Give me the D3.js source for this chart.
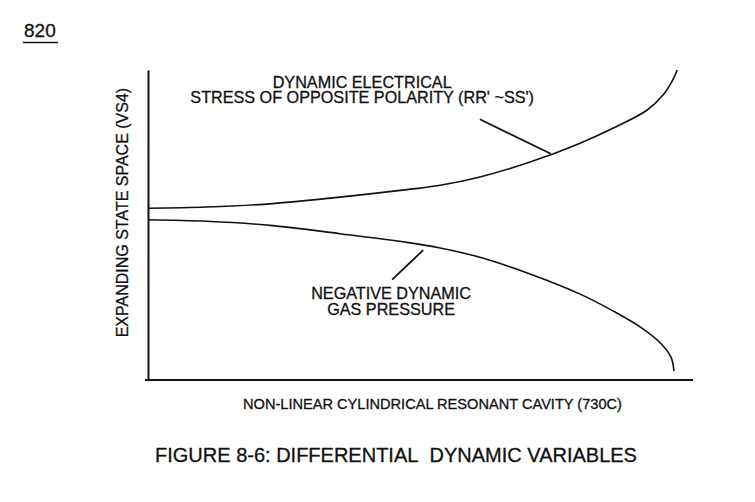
<!DOCTYPE html>
<html>
<head>
<meta charset="utf-8">
<title>Figure 8-6: Differential Dynamic Variables</title>
<style>
  body { margin: 0; background: #fff; }
  svg { display: block; }
  text { font-family: 'Liberation Sans', Arial, sans-serif; fill: #111; stroke: #111; stroke-width: 0.3px; }
  .axis path { stroke: #111; stroke-width: 2px; }
  .curve { fill: none; stroke: #111; stroke-width: 1.6px; }
  .leader { stroke: #111; stroke-width: 1.8px; }
</style>
</head>
<body>
<script src="https://d3js.org/d3.v7.min.js"></script>
<script>

// values (arbitrary units, 0-100 on each axis)
var upperX = [0, 10.8, 22.9, 35.2, 47.5, 53.6, 60.9, 70.1, 79.3, 85.3, 91.6, 94.5, 96.3, 97.1];
var upperY = [55.4, 55.8, 56.9, 59.0, 61.4, 62.8, 65.5, 70.3, 76.4, 81.2, 87.1, 91.9, 96.8, 100];

var lowerX = [0, 10.8, 22.9, 35.2, 47.5, 53.6, 60.9, 70.1, 79.3, 85.3, 90.5, 94.2, 96.0, 96.5];
var lowerY = [51.7, 51.2, 49.8, 47.2, 44.4, 42.6, 39.6, 34.2, 27.7, 22.3, 16.9, 11.6, 7.2, 2.9];

var upperLabel = ["DYNAMIC ELECTRICAL", "STRESS OF OPPOSITE POLARITY (RR' ~SS')"];
var lowerLabel = ["NEGATIVE DYNAMIC", "GAS PRESSURE"];
var xTitle = "NON-LINEAR CYLINDRICAL RESONANT CAVITY (730C)";
var yTitle = "EXPANDING STATE SPACE (VS4)";
var caption = "FIGURE 8-6: DIFFERENTIAL\u00a0 DYNAMIC VARIABLES";
var sheetNo = "820";

var margin = {top: 70, right: 62, bottom: 122, left: 148},
    width  = 755 - margin.left - margin.right,
    height = 502 - margin.top - margin.bottom;

var x = d3.scaleLinear().domain([0, 100]).range([0, width]);
var y = d3.scaleLinear().domain([0, 100]).range([height, 0]);

var svg = d3.select("body").append("svg")
    .attr("width", 755)
    .attr("height", 502);

var chart = svg.append("g")
    .attr("transform", "translate(" + margin.left + "," + margin.top + ")");

// bare axes, no ticks
chart.append("g")
    .attr("class", "axis")
    .attr("transform", "translate(0," + height + ")")
    .call(d3.axisBottom(x).ticks(0).tickSizeOuter(0))
    .select(".domain").attr("d", "M-3,0H" + width);

chart.append("g")
    .attr("class", "axis")
    .call(d3.axisLeft(y).ticks(0).tickSizeOuter(0));

var line = d3.line()
    .x(function(d) { return x(d[0]); })
    .y(function(d) { return y(d[1]); })
    .curve(d3.curveCatmullRom.alpha(0.5));

chart.append("path")
    .datum(d3.zip(upperX, upperY))
    .attr("class", "curve")
    .attr("d", line);

chart.append("path")
    .datum(d3.zip(lowerX, lowerY))
    .attr("class", "curve")
    .attr("d", line);

// leader lines
chart.append("line").attr("class", "leader")
    .attr("x1", x(60.9)).attr("y1", y(84.1))
    .attr("x2", x(73.9)).attr("y2", y(73.0));

chart.append("line").attr("class", "leader")
    .attr("x1", x(50.5)).attr("y1", y(41.9))
    .attr("x2", x(44.8)).attr("y2", y(32.4));

// curve labels
function label(lines, cx, vy, dy) {
    lines.forEach(function(t, i) {
        chart.append("text")
            .attr("x", x(cx)).attr("y", y(vy) + i * dy)
            .style("text-anchor", "middle")
            .style("font-size", "16.2px")
            .text(t);
    });
}
label(upperLabel, 39.3, 94.2, 15.5);
label(lowerLabel, 44.6, 26.2, 16);

// axis titles
chart.append("text")
    .attr("x", x(52.2)).attr("y", height + 29)
    .style("text-anchor", "middle")
    .style("font-size", "14.6px")
    .text(xTitle);

chart.append("text")
    .attr("transform", "translate(-20," + y(54) + ") rotate(-90)")
    .style("text-anchor", "middle")
    .style("font-size", "16px")
    .text(yTitle);

// caption and sheet number
svg.append("text")
    .attr("x", 396).attr("y", 462)
    .style("text-anchor", "middle")
    .style("font-size", "20px")
    .text(caption);

svg.append("text")
    .attr("x", 24).attr("y", 37)
    .style("font-size", "19px")
    .text(sheetNo);
svg.append("line")
    .attr("x1", 23).attr("x2", 58)
    .attr("y1", 42.5).attr("y2", 42.5)
    .attr("stroke", "#111").attr("stroke-width", 1.5);

</script>
</body>
</html>
